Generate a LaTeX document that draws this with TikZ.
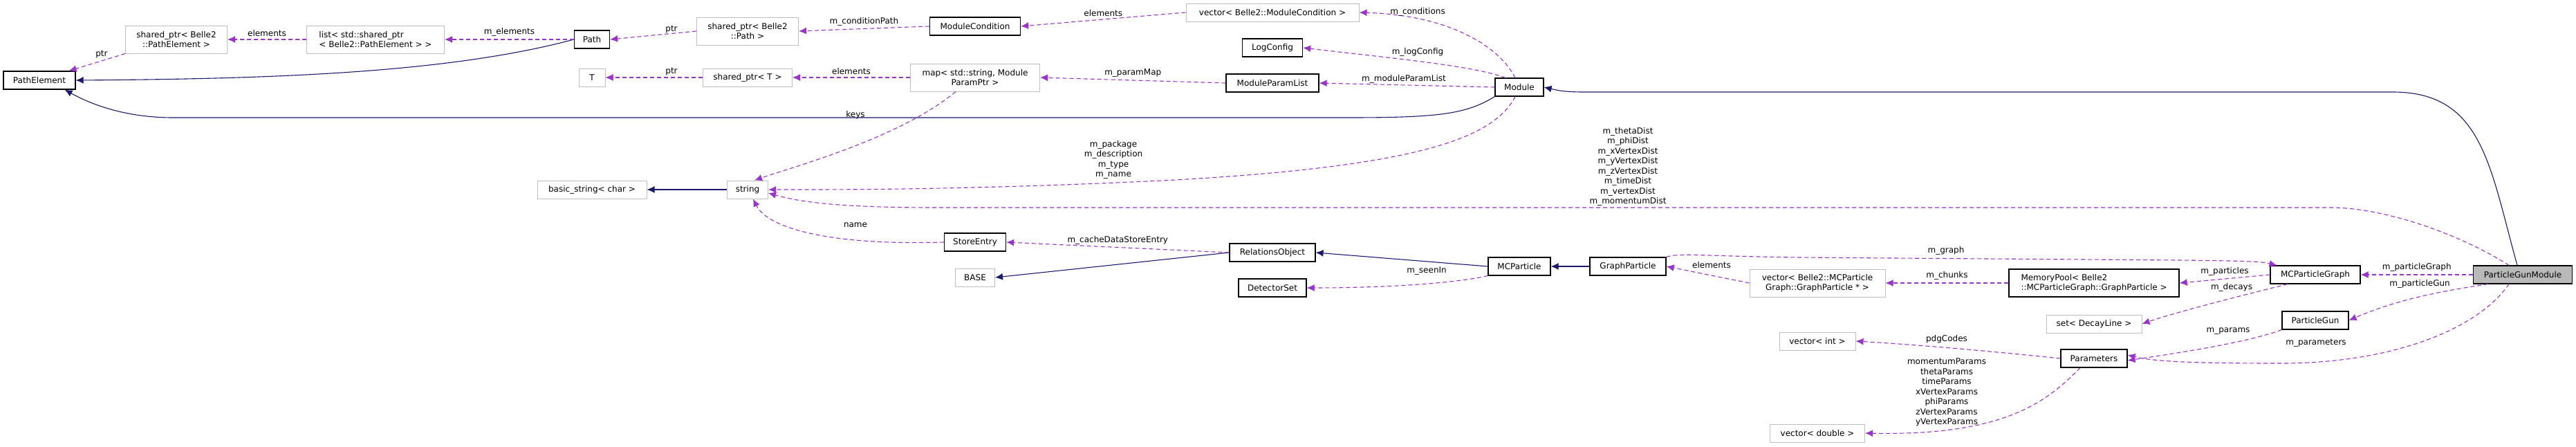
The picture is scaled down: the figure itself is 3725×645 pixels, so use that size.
\documentclass[tikz,border=0pt]{standalone}
\usepackage{fontspec}
\setmainfont{DejaVu Sans}
\usetikzlibrary{arrows.meta}
\definecolor{usecol}{HTML}{9A32CD}
\definecolor{inhcol}{HTML}{191970}
\definecolor{extcol}{HTML}{BFBFBF}
\begin{document}
\begin{tikzpicture}[x=1pt,y=-1pt,
  every node/.style={font=\fontsize{12}{14.5}\selectfont},
  cls/.style={draw=black,line width=1.1pt,fill=white,minimum height=26pt,inner xsep=4pt,inner ysep=2pt,align=left},
  ext/.style={draw=extcol,line width=1pt,fill=white,minimum height=26pt,inner xsep=4pt,inner ysep=2pt,align=center},
  use/.style={draw=usecol,dashed,dash pattern=on 6pt off 4pt,line width=1.1pt,-{Latex[length=11pt,width=10pt]}},
  inh/.style={draw=inhcol,line width=1.1pt,-{Latex[length=11pt,width=10pt]}},
  lbl/.style={align=center,inner sep=1pt},
  ab/.style={lbl,above=3pt}]
\useasboundingbox (0,0) rectangle (3725,645);
% nodes
\node[cls,minimum width=104] (pe) at (57,116) {PathElement};
\node[ext,minimum width=147,minimum height=40] (sppe) at (255,57) {shared\_ptr< Belle2\\::PathElement >};
\node[ext,minimum width=199,minimum height=40,align=left] (lst) at (543,57) {list< std::shared\_ptr\\< Belle2::PathElement > >};
\node[cls,minimum width=51] (path) at (856,57) {Path};
\node[ext,minimum width=38] (T) at (856,112) {T};
\node[ext,minimum width=158] (bs) at (856,274) {basic\_string< char >};
\node[ext,minimum width=147,minimum height=40] (spp) at (1081,45) {shared\_ptr< Belle2\\::Path >};
\node[cls,minimum width=131] (mc) at (1410,38) {ModuleCondition};
\node[ext,minimum width=250] (vmc) at (1840,18) {vector< Belle2::ModuleCondition >};
\node[cls,minimum width=87] (lc) at (1840,69) {LogConfig};
\node[cls,minimum width=134] (mpl) at (1840,120) {ModuleParamList};
\node[ext,minimum width=187,minimum height=40] (map) at (1410,112) {map< std::string, Module\\ParamPtr >};
\node[ext,minimum width=129] (spt) at (1081,112) {shared\_ptr< T >};
\node[ext,minimum width=59] (str) at (1081,274) {string};
\node[cls,minimum width=70] (mod) at (2197,126) {Module};
\node[cls,minimum width=89] (se) at (1410,350) {StoreEntry};
\node[ext,minimum width=57] (base) at (1410,401) {BASE};
\node[cls,minimum width=124] (ro) at (1840,365) {RelationsObject};
\node[cls,minimum width=98] (ds) at (1840,416) {DetectorSet};
\node[cls,minimum width=90] (mcp) at (2197,385) {MCParticle};
\node[cls,minimum width=110] (gp) at (2354,385) {GraphParticle};
\node[ext,minimum width=196,minimum height=40] (vgp) at (2628,409) {vector< Belle2::MCParticle\\Graph::GraphParticle * >};
\node[ext,minimum width=110] (vi) at (2628,493) {vector< int >};
\node[ext,minimum width=137] (vd) at (2628,626) {vector< double >};
\node[cls,minimum width=246,minimum height=40] (mp) at (3028,409) {MemoryPool< Belle2\\::MCParticleGraph::GraphParticle >};
\node[cls,minimum width=130] (mcpg) at (3348,397) {MCParticleGraph};
\node[cls,minimum width=143,fill=gray!55] (pgm) at (3648,397) {ParticleGunModule};
\node[ext,minimum width=138] (set) at (3028,468) {set< DecayLine >};
\node[cls,minimum width=96] (pg) at (3348,463) {ParticleGun};
\node[cls,minimum width=96] (par) at (3028,518) {Parameters};
% inheritance
\draw[inh] (path.west) .. controls (650,105) and (400,114) .. (pe.east);
\draw[inh] (mod.south west) .. controls (2120,165) and (2080,170) .. (1950,170) -- (250,170) .. controls (180,170) and (130,150) .. ([xshift=-16pt]pe.south east);
\draw[inh] ([xshift=-8pt]pgm.north) .. controls (3600,240) and (3590,133) .. (3460,133) -- (2290,133) .. controls (2260,133) and (2250,130) .. (mod.east);
\draw[inh] (ro.west) -- (base.east);
\draw[inh] (mcp.west) -- (ro.east);
\draw[inh] (gp.west) -- (mcp.east);
\draw[inh] (str.west) -- (bs.east);
% usage
\draw[use] (sppe.south west) -- ([xshift=-10pt]pe.north east);
\node[lbl] (l1) at (147,79) {ptr};
\draw[use] (lst.west) -- node[ab] (l2) {elements} (sppe.east);
\draw[use] (path.west) -- node[ab] (l3) {m\_elements} (lst.east);
\draw[use] (spp.west) -- (path.east);
\node[lbl] (l4) at (971,43) {ptr};
\draw[use] (mc.west) -- node[ab] (l5) {m\_conditionPath} (spp.east);
\draw[use] (vmc.west) -- node[ab] (l6) {elements} (mc.east);
\draw[use] ([xshift=-6pt]mod.north) .. controls (2170,70) and (2100,22) .. (vmc.east);
\node[lbl] (l7) at (2050,17) {m\_conditions};
\draw[use] ([xshift=-20pt]mod.north) .. controls (2130,95) and (2020,85) .. (lc.east);
\node[lbl] (l8) at (2050,75) {m\_logConfig};
\draw[use] (mod.west) -- (mpl.east);
\node[lbl] (l9) at (2030,114) {m\_moduleParamList};
\draw[use] (mpl.west) -- node[ab] (l10) {m\_paramMap} (map.east);
\draw[use] (map.west) -- node[ab] (l11) {elements} (spt.east);
\draw[use] (spt.west) -- (T.east);
\node[lbl] (l12) at (971,104) {ptr};
\draw[use] ([xshift=-28pt]map.south) .. controls (1300,200) and (1150,240) .. ([xshift=10pt]str.north);
\node[lbl] (l13) at (1237,166) {keys};
\draw[use] ([xshift=-6pt]mod.south) .. controls (2160,200) and (2050,240) .. (1700,260) .. controls (1400,275) and (1200,274) .. (str.east);
\node[lbl] (l14) at (1610,231) {m\_package\\m\_description\\m\_type\\m\_name};
\draw[use] ([xshift=-20pt]pgm.north) .. controls (3560,340) and (3450,300) .. (3370,300) -- (1350,300) .. controls (1200,300) and (1150,290) .. ([yshift=-5pt]str.east);
\node[lbl] (l15) at (2354,241) {m\_thetaDist\\m\_phiDist\\m\_xVertexDist\\m\_yVertexDist\\m\_zVertexDist\\m\_timeDist\\m\_vertexDist\\m\_momentumDist};
\draw[use] (se.west) .. controls (1200,355) and (1110,330) .. ([xshift=8pt]str.south);
\node[lbl] (l16) at (1237,325) {name};
\draw[use] (ro.west) -- node[ab] (l17) {m\_cacheDataStoreEntry} (se.east);
\draw[use] (mcp.south west) .. controls (2100,410) and (2000,416) .. (ds.east);
\node[lbl] (l18) at (2063,392) {m\_seenIn};
\draw[use] (gp.north east) .. controls (2430,365) and (2450,370) .. (2600,372) -- (3150,376) .. controls (3250,377) and (3270,378) .. ([xshift=10pt]mcpg.north west);
\node[lbl] (l19) at (2814,362) {m\_graph};
\draw[use] (vgp.west) -- (gp.east);
\node[lbl] (l20) at (2475,383) {elements};
\draw[use] (mp.west) -- node[ab] (l21) {m\_chunks} (vgp.east);
\draw[use] (mcpg.west) -- node[ab] (l22) {m\_particles} (mp.east);
\draw[use] ([xshift=-40pt]mcpg.south) .. controls (3250,425) and (3150,450) .. (set.east);
\node[lbl] (l23) at (3227,415) {m\_decays};
\draw[use] (pgm.west) -- node[ab] (l24) {m\_particleGraph} (mcpg.east);
\draw[use] ([xshift=-50pt]pgm.south) .. controls (3500,425) and (3450,440) .. (pg.east);
\node[lbl] (l25) at (3499,410) {m\_particleGun};
\draw[use] ([xshift=-20pt]pgm.south) .. controls (3580,480) and (3450,525) .. (3300,525) .. controls (3200,525) and (3120,524) .. ([yshift=5pt]par.east);
\node[lbl] (l26) at (3349,496) {m\_parameters};
\draw[use] (pg.south west) .. controls (3250,495) and (3150,510) .. ([yshift=-3pt]par.east);
\node[lbl] (l27) at (3222,479) {m\_params};
\draw[use] (par.west) .. controls (2900,510) and (2800,500) .. (vi.east);
\node[lbl] (l28) at (2815,490) {pdgCodes};
\draw[use] ([xshift=-20pt]par.south) .. controls (2960,580) and (2900,630) .. (vd.east);
\node[lbl] (l29) at (2815,567) {momentumParams\\thetaParams\\timeParams\\xVertexParams\\phiParams\\zVertexParams\\yVertexParams};
\end{tikzpicture}
\end{document}
